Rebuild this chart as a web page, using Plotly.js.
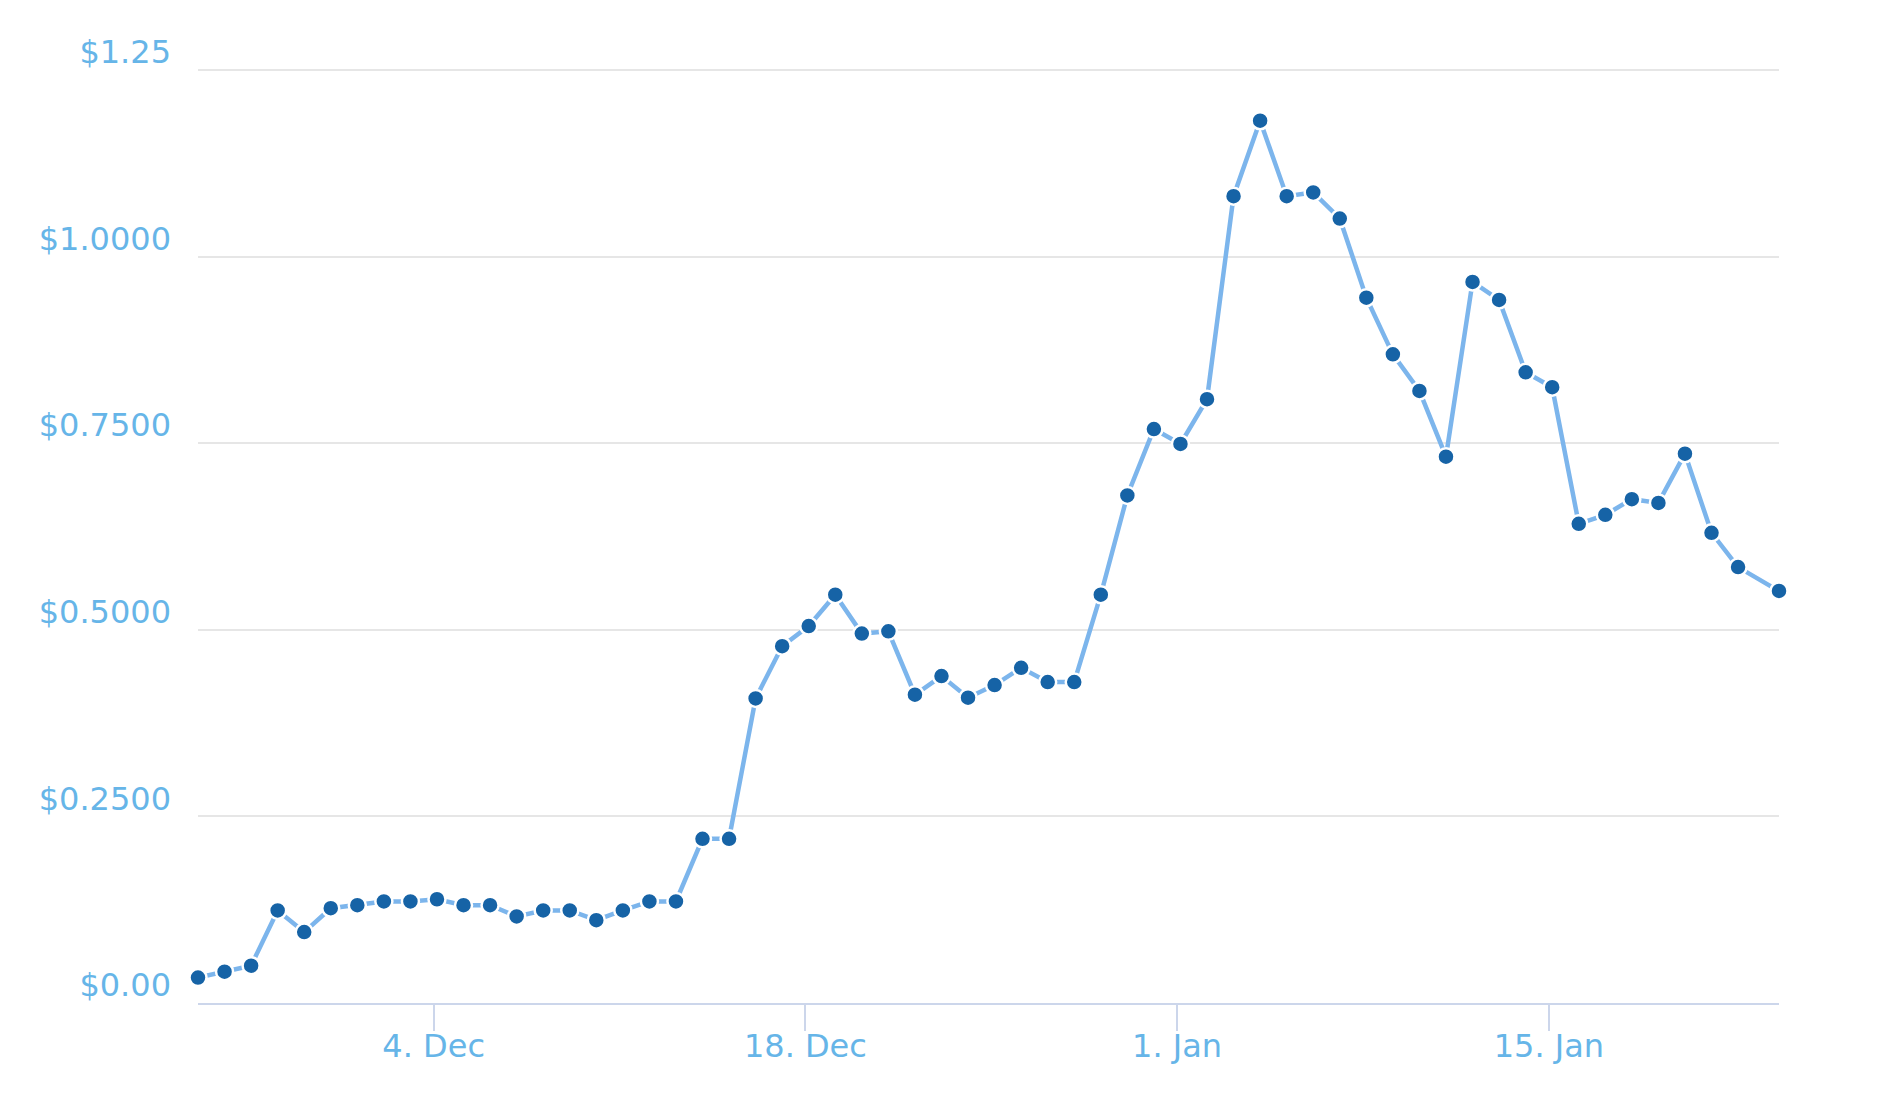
<!DOCTYPE html>
<html>
<head>
<meta charset="utf-8">
<script src="https://cdn.plot.ly/plotly-3.0.1.min.js"></script>
<style>
  html, body { margin: 0; padding: 0; background: #fff; }
  #priceChart { width: 1878px; height: 1102px; }
</style>
</head>
<body>
<div id="priceChart"></div>
<script>
// daily closes, Nov 25 -> Jan 22, plus the last (partial day) point
var dates = [
  '2017-11-25 03:00', '2017-11-26 03:00', '2017-11-27 03:00', '2017-11-28 03:00', '2017-11-29 03:00',
  '2017-11-30 03:00', '2017-12-01 03:00', '2017-12-02 03:00', '2017-12-03 03:00', '2017-12-04 03:00',
  '2017-12-05 03:00', '2017-12-06 03:00', '2017-12-07 03:00', '2017-12-08 03:00', '2017-12-09 03:00',
  '2017-12-10 03:00', '2017-12-11 03:00', '2017-12-12 03:00', '2017-12-13 03:00', '2017-12-14 03:00',
  '2017-12-15 03:00', '2017-12-16 03:00', '2017-12-17 03:00', '2017-12-18 03:00', '2017-12-19 03:00',
  '2017-12-20 03:00', '2017-12-21 03:00', '2017-12-22 03:00', '2017-12-23 03:00', '2017-12-24 03:00',
  '2017-12-25 03:00', '2017-12-26 03:00', '2017-12-27 03:00', '2017-12-28 03:00', '2017-12-29 03:00',
  '2017-12-30 03:00', '2017-12-31 03:00', '2018-01-01 03:00', '2018-01-02 03:00', '2018-01-03 03:00',
  '2018-01-04 03:00', '2018-01-05 03:00', '2018-01-06 03:00', '2018-01-07 03:00', '2018-01-08 03:00',
  '2018-01-09 03:00', '2018-01-10 03:00', '2018-01-11 03:00', '2018-01-12 03:00', '2018-01-13 03:00',
  '2018-01-14 03:00', '2018-01-15 03:00', '2018-01-16 03:00', '2018-01-17 03:00', '2018-01-18 03:00',
  '2018-01-19 03:00', '2018-01-20 03:00', '2018-01-21 03:00', '2018-01-22 03:00', '2018-01-23 16:00'
];

var prices = [
  0.034, 0.042, 0.050, 0.124, 0.095, 0.127, 0.131, 0.136, 0.136, 0.139,
  0.131, 0.131, 0.116, 0.124, 0.124, 0.111, 0.124, 0.136, 0.136, 0.220,
  0.220, 0.408, 0.478, 0.505, 0.547, 0.495, 0.498, 0.413, 0.438, 0.409,
  0.426, 0.449, 0.430, 0.430, 0.547, 0.680, 0.769, 0.749, 0.809, 1.081,
  1.182, 1.081, 1.086, 1.051, 0.945, 0.869, 0.820, 0.732, 0.966, 0.942,
  0.845, 0.825, 0.642, 0.654, 0.675, 0.670, 0.736, 0.630, 0.584, 0.552
];

var yTicks = [0, 0.25, 0.5, 0.75, 1.0, 1.25];
var yTickText = ['$0.00', '$0.2500', '$0.5000', '$0.7500', '$1.0000', '$1.25'];

var labelColor = '#66b5e8';
var labelFont = {family: 'DejaVu Sans, sans-serif', size: 32, color: labelColor};

var trace = {
  type: 'scatter',
  mode: 'lines+markers',
  x: dates,
  y: prices,
  cliponaxis: false,
  line: {color: '#7cb5ec', width: 4.5},
  marker: {color: '#1663a6', size: 17, line: {color: '#ffffff', width: 2.5}},
  hoverinfo: 'x+y'
};

var layout = {
  width: 1878,
  height: 1102,
  // top a touch above the $1.25 line so its gridline is not dropped at the edge
  margin: {l: 198, r: 99, t: 67, b: 99},
  paper_bgcolor: '#ffffff',
  plot_bgcolor: '#ffffff',
  showlegend: false,
  xaxis: {
    type: 'date',
    range: [dates[0], dates[dates.length - 1]],
    tick0: '2017-12-04',
    dtick: 14 * 86400000,
    tickformat: '%-d. %b',
    ticks: 'outside',
    ticklen: 26,
    tickwidth: 2,
    tickcolor: '#ccd6eb',
    showline: true,
    linecolor: '#ccd6eb',
    linewidth: 2,
    showgrid: false,
    zeroline: false,
    ticklabelstandoff: -12,
    tickfont: labelFont
  },
  yaxis: {
    range: [0, 1.254],
    tickvals: yTicks,
    ticktext: yTickText,
    ticks: '',
    showgrid: true,
    gridcolor: '#e6e6e6',
    gridwidth: 2,
    zeroline: false,
    showline: false,
    ticklabelshift: -18,
    ticklabelstandoff: 26,
    tickfont: labelFont
  }
};

Plotly.newPlot('priceChart', [trace], layout, {staticPlot: true});
</script>
</body>
</html>
